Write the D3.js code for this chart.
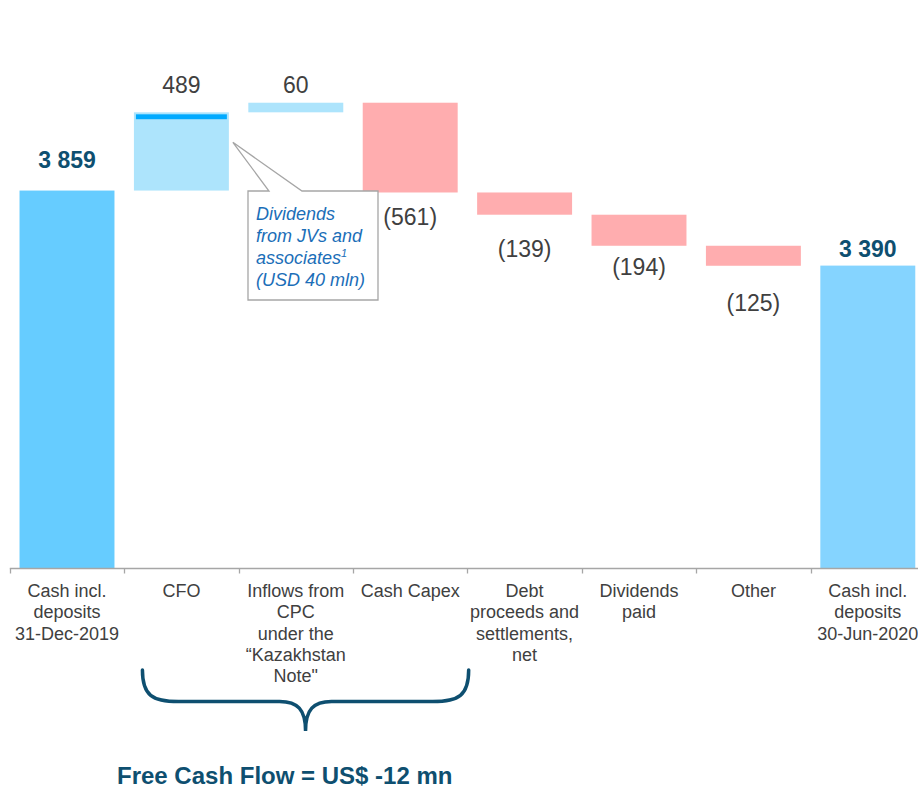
<!DOCTYPE html>
<html>
<head>
<meta charset="utf-8">
<script src="https://cdn.jsdelivr.net/npm/d3@7"></script>
<style>
  html, body { margin: 0; padding: 0; background: #fff; }
  svg { display: block; font-family: "Liberation Sans", Arial, sans-serif; }
</style>
</head>
<body>
<svg id="chart" width="918" height="788"></svg>
<script>
// ---- data (US$ mn) ----
var categories = ["open", "cfo", "cpc", "capex", "debt", "divs", "other", "close"];
var categoryLines = [
    ["Cash incl.", "deposits", "31-Dec-2019"],
    ["CFO"],
    ["Inflows from", "CPC", "under the", "\u201CKazakhstan", "Note\""],
    ["Cash Capex"],
    ["Debt", "proceeds and", "settlements,", "net"],
    ["Dividends", "paid"],
    ["Other"],
    ["Cash incl.", "deposits", "30-Jun-2020"]
];
var openingCash = 3859;
var deltas = [489, 60, -561, -139, -194, -125];
var closingCash = 3390;
var jvDividends = 40;   // part of CFO, dark strip
var calloutLines = ["Dividends", "from JVs and", "associates", "(USD 40 mln)"];
var fcfText = "Free Cash Flow = US$ -12 mn";

// ---- build waterfall steps ----
var steps = [];
steps.push({key: categories[0], type: "total", start: 0, end: openingCash, value: openingCash});
var running = openingCash;
deltas.forEach(function(d, i) {
    steps.push({key: categories[i + 1], type: d >= 0 ? "pos" : "neg", start: running, end: running + d, value: d});
    running += d;
});
steps.push({key: categories[7], type: "total", start: 0, end: closingCash, value: closingCash});

var svg = d3.select("#chart");

var x = d3.scaleBand()
    .domain(categories)
    .range([9.8, 925])
    .paddingInner(0.17)
    .paddingOuter(0.085);

// axis is truncated, baseline is not zero
var y = d3.scaleLinear()
    .domain([1500, 4500])
    .range([568, 88]);

var fmt = d3.formatLocale({thousands: "\u00A0", grouping: [3], decimal: ".", currency: ["", ""]}).format(",d");

function fill(d, i) {
    if (d.type === "total") return i === 0 ? "#66CCFF" : "#85D4FF";
    return d.type === "pos" ? "#ADE4FC" : "#FFADAF";
}

// bars
svg.append("g").selectAll("rect")
    .data(steps)
    .enter().append("rect")
    .attr("x", function(d) { return x(d.key); })
    .attr("width", x.bandwidth())
    .attr("y", function(d) { return d.type === "total" ? y(d.end) : y(Math.max(d.start, d.end)); })
    .attr("height", function(d) {
        if (d.type === "total") return y.range()[0] - y(d.end);
        return Math.abs(y(d.start) - y(d.end));
    })
    .attr("fill", fill);

// JV dividends strip on top of CFO
var cfo = steps[1];
svg.append("rect")
    .attr("x", x(cfo.key) + 2)
    .attr("width", x.bandwidth() - 4)
    .attr("y", y(cfo.end) + 2)
    .attr("height", y(cfo.end - jvDividends) - y(cfo.end) - 1.5)
    .attr("fill", "#00AAFF");

// axis line + ticks at band edges
var axisY = 568.5;
var bandStep = x.step();
var x0 = x(categories[0]) - x.paddingInner() * bandStep / 2;
svg.append("line")
    .attr("x1", x0).attr("x2", 918)
    .attr("y1", axisY).attr("y2", axisY)
    .attr("stroke", "#A6A6A6").attr("stroke-width", 1.3);
svg.append("g").selectAll("line")
    .data(d3.range(categories.length + 1))
    .enter().append("line")
    .attr("x1", function(i) { return Math.round(x0 + i * bandStep) + 0.5; })
    .attr("x2", function(i) { return Math.round(x0 + i * bandStep) + 0.5; })
    .attr("y1", axisY).attr("y2", axisY + 5)
    .attr("stroke", "#A6A6A6").attr("stroke-width", 1.3);

// category labels
var catText = svg.append("g").selectAll("text")
    .data(categories)
    .enter().append("text")
    .attr("text-anchor", "middle")
    .attr("font-size", 18)
    .attr("fill", "#404040");
catText.selectAll("tspan")
    .data(function(d, i) { return categoryLines[i].map(function(t) { return {t: t, c: d}; }); })
    .enter().append("tspan")
    .attr("x", function(d) { return x(d.c) + x.bandwidth() / 2; })
    .attr("y", function(d, j) { return 597 + j * 21.3; })
    .text(function(d) { return d.t; });

// value labels (gap from bar edge, tuned to the slide)
var labelGap = [23, 19, 10, 33, 42, 29, 45, 9];
svg.append("g").selectAll("text")
    .data(steps)
    .enter().append("text")
    .attr("text-anchor", "middle")
    .attr("font-size", 23)
    .attr("font-weight", function(d) { return d.type === "total" ? "bold" : "normal"; })
    .attr("fill", function(d) { return d.type === "total" ? "#0E4F70" : "#404040"; })
    .attr("x", function(d) { return x(d.key) + x.bandwidth() / 2; })
    .attr("y", function(d, i) {
        if (d.type === "neg") return y(d.end) + labelGap[i];
        return y(d.end) - labelGap[i];
    })
    .text(function(d) {
        return d.value < 0 ? "(" + fmt(-d.value) + ")" : fmt(d.value);
    });

// callout for JV dividends
var bx = 248, by = 191, bw = 130, bh = 109;
var tipX = x(cfo.key) + x.bandwidth() + 4, tipY = y(cfo.end) + 30;
svg.append("path")
    .attr("d", "M" + bx + "," + by + "L269," + by + "L" + tipX + "," + tipY + "L302," + by +
        "L" + (bx + bw) + "," + by + "L" + (bx + bw) + "," + (by + bh) + "L" + bx + "," + (by + bh) + "Z")
    .attr("fill", "#fff")
    .attr("stroke", "#A6A6A6")
    .attr("stroke-width", 1.3);
var callout = svg.append("text")
    .attr("font-size", 18)
    .attr("font-style", "italic")
    .attr("fill", "#1B6EB8");
calloutLines.forEach(function(t, i) {
    callout.append("tspan")
        .attr("x", 256)
        .attr("y", by + 28.5 + i * 22)
        .text(t);
    if (i === 2) {
        callout.append("tspan").attr("dy", -7).attr("font-size", 11).text("1");
    }
});

// brace over free cash flow items
var bl = x(categories[1]) + 8.5;
var br = x(categories[3]) + x.bandwidth() + 11;
var bm = (bl + br) / 2;
var braceTop = 670, braceMid = 701.5, braceBot = 731;
svg.append("path")
    .attr("d", "M" + bl + "," + braceTop +
        "C" + bl + "," + (braceMid - 6) + " " + (bl + 10) + "," + braceMid + " " + (bl + 36) + "," + braceMid +
        "L" + (bm - 26) + "," + braceMid +
        "C" + (bm - 8) + "," + braceMid + " " + bm + "," + (braceMid + 8) + " " + bm + "," + braceBot +
        "C" + bm + "," + (braceMid + 8) + " " + (bm + 8) + "," + braceMid + " " + (bm + 26) + "," + braceMid +
        "L" + (br - 36) + "," + braceMid +
        "C" + (br - 10) + "," + braceMid + " " + br + "," + (braceMid - 6) + " " + br + "," + braceTop)
    .attr("fill", "none")
    .attr("stroke", "#0E4F70")
    .attr("stroke-width", 3.5)
    .attr("stroke-linecap", "round");

svg.append("text")
    .attr("x", 117)
    .attr("y", 784)
    .attr("font-size", 24)
    .attr("font-weight", "bold")
    .attr("fill", "#0E4F70")
    .text(fcfText);
</script>
</body>
</html>
